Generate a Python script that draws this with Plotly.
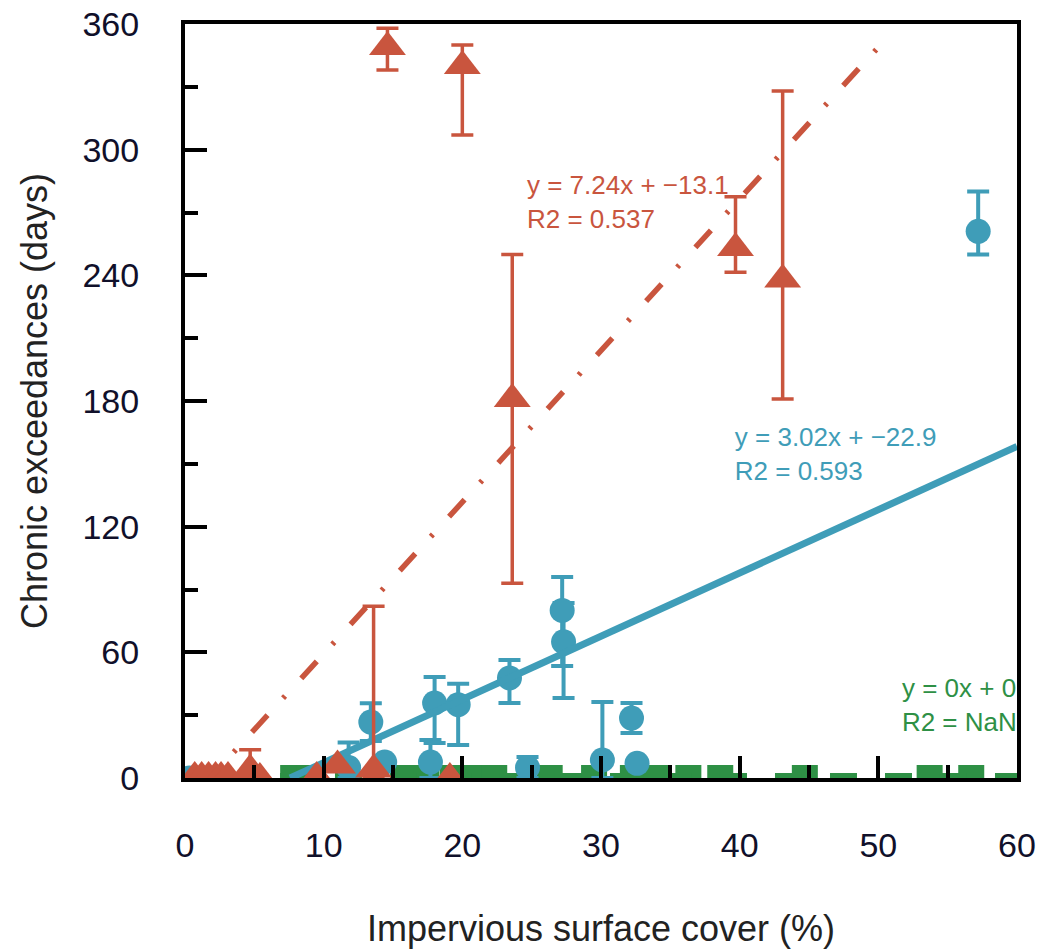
import plotly.graph_objects as go

# ---------------- data ----------------
# Red series (triangles)
red_x = [0.7, 1.2, 1.7, 2.2, 2.6, 3.1, 4.7, 5.4, 9.5, 11.0, 13.6, 19.1, 14.6, 20.0, 23.6, 39.7, 43.1]
red_y = [0.5, 0.5, 0.5, 0.5, 0.5, 0.5, 4, 0, 0.5, 6, 4, 0, 349, 340, 181, 253, 238]
red_err_plus = [0, 0, 0, 0, 0, 0, 9.5, 0, 0, 0, 78, 0, 9, 10, 69, 24.5, 90]
red_err_minus = [0, 0, 0, 0, 0, 0, 4, 0, 0, 0, 4, 0, 11, 33, 88, 11.5, 57]

# Blue series (circles)
blue_x = [0.3, 11.8, 13.4, 14.4, 17.7, 18.0, 19.7, 23.4, 24.7, 27.2, 27.3, 30.1, 32.2, 32.6, 57.2]
blue_y = [0, 5, 26.7, 7.6, 7.6, 35.8, 35, 47.8, 5, 80, 65, 8.6, 28.6, 7, 261]
blue_err_plus = [0, 12, 9, 0, 10.5, 12.4, 10, 8.5, 5, 16, 18.6, 27.7, 7.2, 0, 19]
blue_err_minus = [0, 5, 9, 0, 7.6, 19.1, 19.2, 12, 5, 26.5, 26.8, 8.6, 7.1, 0, 11]

# Green series (squares, all zero)
green_x = [7.8, 9.0, 15.9, 17.4, 19.3, 21.1, 22.3, 26.3, 29.5, 32.3, 34.0, 36.3, 38.6, 44.7, 53.7, 56.7]
green_y = [0] * len(green_x)

# Linear fits (slope, intercept, x-range of drawn line)
red_fit = (7.24, -13.1, 1.28, 51.0)
blue_fit = (3.02, -22.9, 7.58, 60.0)
green_fit = (0.0, 0.0, 6.85, 60.0)

red_label = "y = 7.24x + \u221213.1<br>R2 = 0.537"
blue_label = "y = 3.02x + \u221222.9<br>R2 = 0.593"
green_label = "y = 0x + 0<br>R2 = NaN"

x_ticks = [0, 10, 20, 30, 40, 50, 60]
y_ticks = [0, 60, 120, 180, 240, 300, 360]

RED = "#c9553e"
BLUE = "#3f9db8"
GREEN = "#2e9045"
FONT = "Liberation Sans, Arial, sans-serif"

fig = go.Figure()

# green squares
fig.add_trace(go.Scatter(
    x=green_x, y=green_y, mode="markers",
    marker=dict(symbol="square", size=26, color=GREEN),
))
# green fit line
s, b, x0, x1 = green_fit
fig.add_trace(go.Scatter(
    x=[x0, x1], y=[s * x0 + b, s * x1 + b], mode="lines",
    line=dict(color=GREEN, width=10, dash="27px,28px"),
))

# blue points
fig.add_trace(go.Scatter(
    x=blue_x, y=blue_y, mode="markers",
    marker=dict(symbol="circle", size=25, color=BLUE),
    error_y=dict(type="data", array=blue_err_plus, arrayminus=blue_err_minus,
                 color=BLUE, thickness=4, width=11),
))
# blue fit line
s, b, x0, x1 = blue_fit
fig.add_trace(go.Scatter(
    x=[x0, x1], y=[s * x0 + b, s * x1 + b], mode="lines",
    line=dict(color=BLUE, width=7),
))

# red points
fig.add_trace(go.Scatter(
    x=red_x, y=red_y, mode="markers",
    marker=dict(symbol="triangle-up", size=32, color=RED),
    error_y=dict(type="data", array=red_err_plus, arrayminus=red_err_minus,
                 color=RED, thickness=3.5, width=11),
))
# red fit line
s, b, x0, x1 = red_fit
fig.add_trace(go.Scatter(
    x=[x0, x1], y=[s * x0 + b, s * x1 + b], mode="lines",
    line=dict(color=RED, width=5.5, dash="23px,23px,3px,24px"),
))

# equation labels (clipped to plot area)
for tx, ty, txt, col in [(24.66, 274, red_label, RED),
                         (39.65, 153.5, blue_label, BLUE),
                         (51.7, 33.5, green_label, GREEN)]:
    fig.add_trace(go.Scatter(
        x=[tx], y=[ty], mode="text", text=[txt], textposition="middle right",
        textfont=dict(family=FONT, size=26, color=col), cliponaxis=True,
    ))

axis_common = dict(
    showline=True, linewidth=4, linecolor="black", mirror=True,
    showgrid=False, zeroline=False, automargin=False,
    ticks="inside", ticklen=22, tickwidth=4, tickcolor="black",
    tickfont=dict(family=FONT, size=34, color="#10102a"),
)

fig.update_xaxes(
    range=[0, 60], tickmode="array", tickvals=x_ticks,
    minor=dict(tick0=0, dtick=5, ticks="inside", ticklen=13, tickwidth=4, tickcolor="black"),
    ticklabelstandoff=34,
    title=dict(text="Impervious surface cover (%)", font=dict(family=FONT, size=36, color="#222"), standoff=57),
    **axis_common,
)
fig.update_yaxes(
    range=[0, 360], tickmode="array", tickvals=y_ticks,
    minor=dict(tick0=0, dtick=30, ticks="inside", ticklen=13, tickwidth=4, tickcolor="black"),
    ticklabelstandoff=35,
    title=dict(text="Chronic exceedances (days)", font=dict(family=FONT, size=36, color="#222"), standoff=25),
    **axis_common,
)

fig.update_layout(
    width=1053, height=949,
    margin=dict(l=185, r=36, t=24, b=171),
    plot_bgcolor="white", paper_bgcolor="white",
    showlegend=False,
)

fig.write_html("out.html")
